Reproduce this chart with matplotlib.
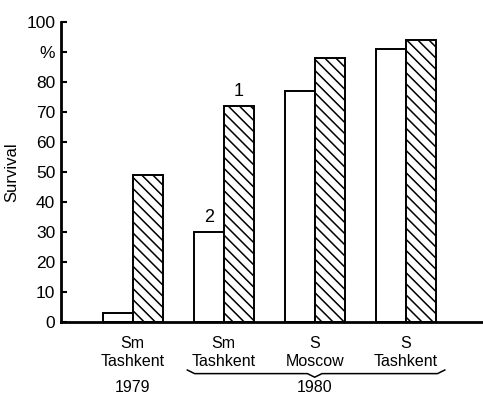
import matplotlib
matplotlib.use('Agg')
import matplotlib.pyplot as plt
import matplotlib.transforms as mtransforms
import numpy as np

plt.rcParams['font.family'] = ['Liberation Sans', 'DejaVu Sans']
plt.rcParams['hatch.linewidth'] = 1.1

# survival, %
groups = ['Sm\nTashkent', 'Sm\nTashkent', 'S\nMoscow', 'S\nTashkent']
plain = [3, 30, 77, 91]        # curve 2, white bars
hatched = [49, 72, 88, 94]     # curve 1, hatched bars
years = ['1979', '1980']

fig = plt.figure(figsize=(4.83, 4.04), dpi=100)
ax = fig.add_axes([0.126, 0.203, 0.874, 0.743])

x = np.arange(len(groups))
w = 0.33
ax.bar(x - w / 2, plain, w, color='white', edgecolor='black', linewidth=1.4)
ax.bar(x + w / 2, hatched, w, color='white', edgecolor='black', linewidth=1.4, hatch='\\\\\\')

ax.text(x[1] - w / 2, plain[1] + 2, '2', ha='center', va='bottom', fontsize=13)
ax.text(x[1] + w / 2, hatched[1] + 2, '1', ha='center', va='bottom', fontsize=13)

ax.set_xlim(-0.79, 3.85)
ax.set_ylim(0, 100)
ax.set_yticks(np.arange(0, 101, 10))
ax.set_yticklabels(['0', '10', '20', '30', '40', '50', '60', '70', '80', '%', '100'], fontsize=12.5)
ax.tick_params(axis='y', direction='in', length=4, width=1.5, pad=4)
ax.set_xticks(x)
ax.set_xticklabels(groups, fontsize=11.5, linespacing=1.3)
ax.tick_params(axis='x', length=0, pad=10)
ax.set_ylabel('Survival', fontsize=12, labelpad=5)

for s in ['top', 'right']:
    ax.spines[s].set_visible(False)
ax.spines['left'].set_linewidth(2)
ax.spines['bottom'].set_linewidth(2)

# years under the groups, with a brace over the 1980 ones
tr = mtransforms.blended_transform_factory(ax.transData, ax.transAxes)
ax.text(x[0], -0.217, years[0], transform=tr, ha='center', va='center', fontsize=11.5)
ax.text(2.0, -0.217, years[1], transform=tr, ha='center', va='center', fontsize=11.5)

bx0, bx1, bm = 0.6, 3.43, 2.0
by, bh = -0.172, 0.012
bxs = [bx0, bx0 + 0.08, bm - 0.08, bm, bm + 0.08, bx1 - 0.08, bx1]
bys = [by + bh, by, by, by - bh, by, by, by + bh]
ax.plot(bxs, bys, color='black', linewidth=1.1, transform=tr, clip_on=False)

fig.savefig('out.png', dpi=100)
